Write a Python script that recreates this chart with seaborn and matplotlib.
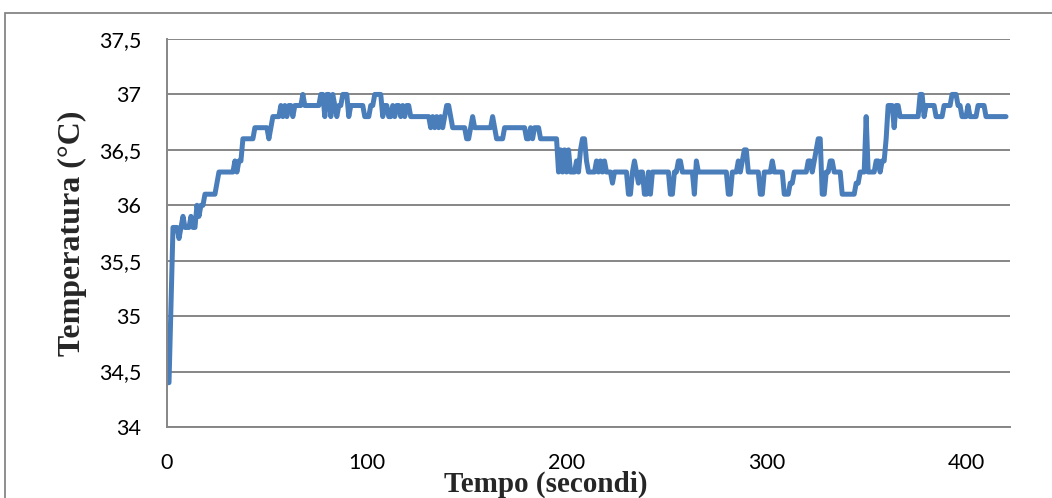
import numpy as np
import pandas as pd
import matplotlib
matplotlib.use("Agg")
import matplotlib.pyplot as plt
import seaborn as sns
from matplotlib.patches import Rectangle

# temperature runs: value, and how many seconds it holds
# (one row of livelli matches the same row of durate)
livelli = [34.4, 35.1, 35.8, 35.7, 35.8, 35.9, 35.8, 35.9, 35.8, 36.0, 35.9, 36.0, 36.1, 36.2,
           36.3, 36.4, 36.3, 36.4, 36.6, 36.7, 36.6, 36.7, 36.8, 36.9, 36.8, 36.9, 36.8, 36.9,
           36.8, 36.9, 37.0, 36.9, 37.0, 36.8, 37.0, 36.8, 37.0, 36.9, 36.8, 36.9, 37.0, 36.8,
           36.9, 36.8, 36.9, 37.0, 36.8, 36.9, 36.8, 36.9, 36.8, 36.9, 36.8, 36.9, 36.8, 36.9,
           36.8, 36.7, 36.8, 36.7, 36.8, 36.7, 36.8, 36.7, 36.8, 36.9, 36.8, 36.7, 36.6, 36.7,
           36.8, 36.7, 36.8, 36.7, 36.6, 36.7, 36.6, 36.7, 36.6, 36.7, 36.6,
           36.3, 36.5, 36.3, 36.5, 36.3, 36.5, 36.3, 36.4, 36.3, 36.5, 36.6, 36.4, 36.3,
           36.4, 36.3, 36.4, 36.3, 36.4, 36.3, 36.2, 36.3, 36.1, 36.3, 36.4, 36.3, 36.2, 36.3,
           36.1, 36.3, 36.1, 36.3, 36.1, 36.3, 36.4, 36.3, 36.1, 36.4, 36.3, 36.1,
           36.3, 36.4, 36.3, 36.4, 36.5, 36.3, 36.1, 36.3, 36.4, 36.3, 36.1, 36.2,
           36.3, 36.4, 36.3, 36.4, 36.5, 36.6, 36.1, 36.3, 36.4, 36.3, 36.1, 36.2, 36.3,
           36.8, 36.3, 36.4, 36.3, 36.4, 36.6, 36.9, 36.7, 36.9, 36.8, 37.0, 36.8,
           36.9, 36.8, 36.9, 37.0, 36.9, 36.8, 36.9, 36.8, 36.9, 36.8]
durate = [2, 1, 3, 1, 1, 1, 3, 1, 2, 1, 1, 2, 6, 1,
          8, 1, 1, 2, 6, 7, 1, 1, 4, 1, 1, 1, 1, 2,
          1, 4, 1, 8, 2, 1, 2, 1, 1, 1, 1, 2, 3, 1,
          7, 3, 2, 4, 1, 2, 2, 1, 1, 2, 1, 1, 1, 2,
          10, 1, 1, 1, 1, 1, 1, 1, 1, 2, 1, 7, 2, 1,
          1, 9, 1, 1, 4, 11, 2, 1, 1, 3, 9,
          1, 1, 1, 1, 1, 1, 3, 1, 1, 1, 2, 1, 4,
          1, 1, 1, 1, 1, 3, 1, 7, 2, 1, 1, 1, 1, 2,
          2, 1, 1, 9, 2, 2, 2, 6, 1, 1, 15, 2,
          3, 1, 1, 1, 2, 6, 2, 4, 1, 5, 3, 2,
          7, 2, 1, 1, 1, 2, 2, 2, 2, 4, 7, 2, 3,
          1, 4, 2, 1, 2, 1, 3, 1, 2, 10, 2, 1,
          5, 4, 4, 3, 2, 3, 1, 4, 4, 11]

y_ticks = [34, 34.5, 35, 35.5, 36, 36.5, 37, 37.5]
y_labels = ["34", "34,5", "35", "35,5", "36", "36,5", "37", "37,5"]
x_ticks = [0, 100, 200, 300, 400]

temperatura = np.repeat(livelli, durate)
df = pd.DataFrame({"Tempo": np.arange(len(temperatura)), "Temperatura": temperatura})

sns.set_style("white")
plt.rcParams["font.family"] = ["Lato", "DejaVu Sans"]

fig = plt.figure(figsize=(10.52, 4.98), dpi=100)
ax = fig.add_axes([167 / 1052, 1 - 427 / 498, (1010 - 167) / 1052, (427 - 39) / 498])

grigio = "#868686"
ax.set_axisbelow(True)
ax.yaxis.grid(True, color=grigio, lw=1.4)
sns.lineplot(data=df, x="Tempo", y="Temperatura", ax=ax, color="#4A7EBB",
             lw=3.6, solid_joinstyle="round", solid_capstyle="round")

ax.set_xlim(0, 422)
ax.set_ylim(34, 37.5)
ax.set_xticks(x_ticks)
ax.set_xticklabels([str(v) for v in x_ticks])
ax.set_yticks(y_ticks)
ax.set_yticklabels(y_labels)
ax.tick_params(axis="both", labelsize=15.5, colors=grigio, labelcolor="black",
               length=5.5, width=1.2, direction="out")
ax.tick_params(axis="x", pad=13)
ax.tick_params(axis="y", pad=13)
for side in ["top", "right"]:
    ax.spines[side].set_visible(False)
for side in ["left", "bottom"]:
    ax.spines[side].set_color(grigio)
    ax.spines[side].set_linewidth(1.4)

ax.set_xlabel("Tempo (secondi)", family="Liberation Serif", fontweight="bold",
              fontsize=21)
ax.set_ylabel("Temperatura (°C)", family="Liberation Serif", fontweight="bold",
              fontsize=23)
ax.xaxis.set_label_coords((546 - 167) / 843, (427 - 471) / 388)
ax.yaxis.set_label_coords((87 - 167) / 843, (427 - 233.5) / 388)

# chart frame, only its top and left edges fall inside the picture
fig.patches.append(Rectangle((4.5 / 1052, -0.1), 1.2, 1 - 13 / 498 + 0.1,
                             transform=fig.transFigure, fill=False,
                             edgecolor=grigio, lw=1.3))

fig.savefig("out.png", dpi=100)
